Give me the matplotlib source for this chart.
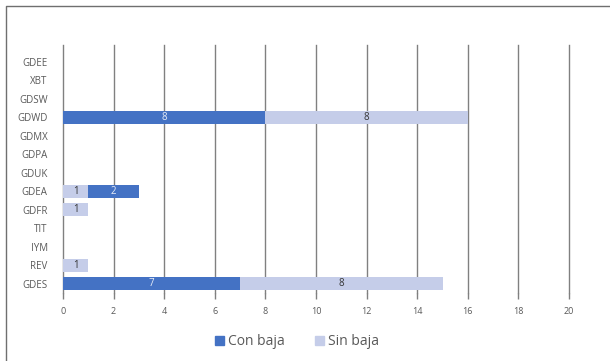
import numpy as np
import matplotlib.pyplot as plt
from matplotlib.lines import Line2D
from matplotlib.patches import Patch

plt.rcParams['font.family'] = ['Open Sans', 'DejaVu Sans']

categorias = ['GDEE', 'XBT', 'GDSW', 'GDWD', 'GDMX', 'GDPA', 'GDUK',
              'GDEA', 'GDFR', 'TIT', 'IYM', 'REV', 'GDES']
con_baja = [0, 0, 0, 8, 0, 0, 0, 2, 0, 0, 0, 0, 7]
sin_baja = [0, 0, 0, 8, 0, 0, 0, 1, 1, 0, 0, 1, 8]
# en GDEA el segmento "Sin baja" va primero
sin_primero = ['GDEA']
x_ticks = [0, 2, 4, 6, 8, 10, 12, 14, 16, 18, 20]

c_con = '#4472c4'
c_sin = '#c5cde9'
c_grid = '#808080'
c_text = '#595959'

fig = plt.figure(figsize=(6.1, 3.61), dpi=100)
ax = fig.add_axes([63/610, 1-293/361, (569-63)/610, (293-45)/361])

y = np.arange(len(categorias))
h = 0.72
for i, cat in enumerate(categorias):
    cb = con_baja[i]
    sb = sin_baja[i]
    if cat in sin_primero:
        left_sin, left_con = 0, sb
    else:
        left_con, left_sin = 0, cb
    if cb:
        ax.barh(i, cb, left=left_con, height=h, color=c_con, zorder=3)
        ax.text(left_con + cb/2, i, str(cb), ha='center', va='center',
                color='#e8edf7', fontsize=7, zorder=4)
    if sb:
        ax.barh(i, sb, left=left_sin, height=h, color=c_sin, zorder=3)
        ax.text(left_sin + sb/2, i, str(sb), ha='center', va='center',
                color='#333333', fontsize=7, zorder=4)

ax.set_xlim(0, 20)
ax.set_ylim(12.5, -0.92)
ax.set_xticks(x_ticks)
ax.set_yticks(y)
ax.set_yticklabels(categorias)
ax.grid(axis='x', color=c_grid, linewidth=1, zorder=0)
for gl in ax.get_xgridlines():
    gl.set_clip_on(False)
for s in ax.spines.values():
    s.set_visible(False)
ax.tick_params(axis='x', length=4, color=c_grid, width=1, labelsize=6.5,
               labelcolor=c_text, pad=6)
ax.tick_params(axis='y', length=0, labelsize=7, labelcolor=c_text, pad=11)

handles = [Patch(color=c_con, label='Con baja'), Patch(color=c_sin, label='Sin baja')]
fig.legend(handles=handles, loc='center', bbox_to_anchor=(0.487, 0.053), ncol=2,
           frameon=False, fontsize=10, handlelength=0.6, handleheight=0.6,
           handletextpad=0.3, columnspacing=2.2, labelcolor=c_text)

# marco exterior (solo izquierda y arriba)
fig.add_artist(Line2D([6/610, 6/610, 1], [0, 1-6/361, 1-6/361],
                      transform=fig.transFigure, color='#6f6f6f', linewidth=1))

fig.savefig('out.png', dpi=100)
